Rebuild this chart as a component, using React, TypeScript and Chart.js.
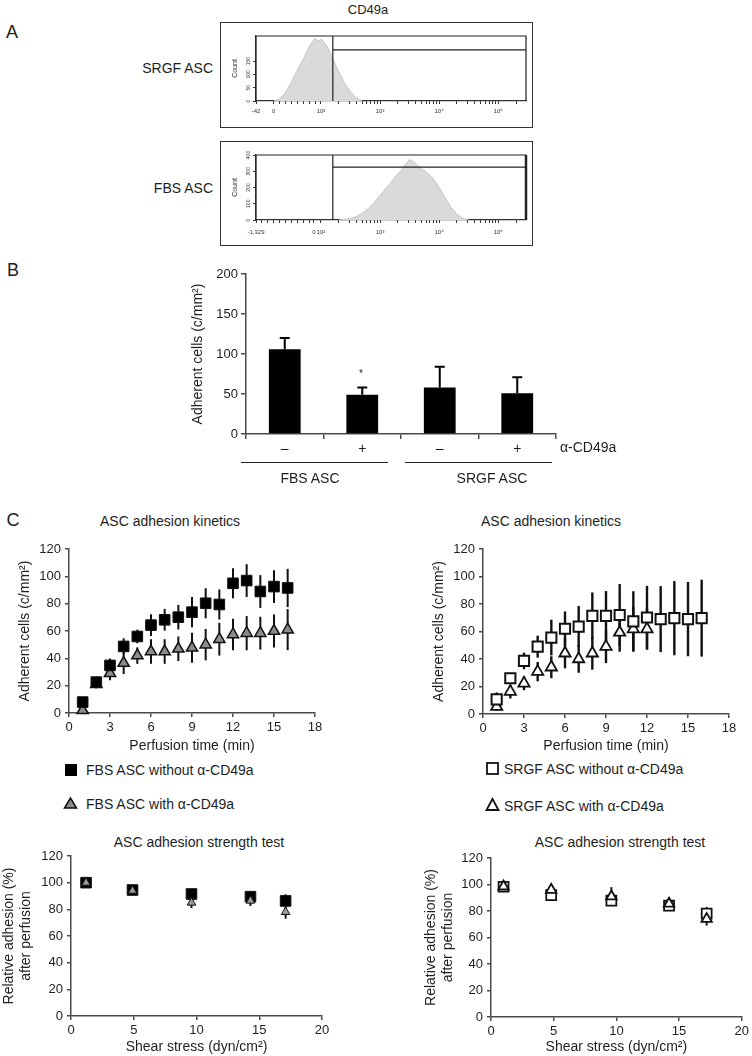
import React, { useEffect, useRef } from 'react';
import { Chart, registerables } from 'chart.js';

Chart.register(...registerables);

const FONT = '"Liberation Sans", Arial, Helvetica, sans-serif';
const INK = '#1e1e1e';
const AXIS = '#4a4a4a';
Chart.defaults.font.family = FONT;
Chart.defaults.color = INK;

// ---------------- Panel A : flow cytometry histograms ----------------
const srgfHistX = [1.2, 1.25, 1.3, 1.35, 1.4, 1.45, 1.5, 1.55, 1.6, 1.65, 1.7, 1.75, 1.8, 1.85, 1.9, 1.95, 2.0, 2.05, 2.1, 2.15, 2.2, 2.25, 2.3, 2.35, 2.4, 2.45, 2.5, 2.55, 2.6, 2.65, 2.7];
const srgfHistY = [0, 3, 9, 18, 34, 52, 70, 96, 115, 138, 158, 180, 204, 220, 236, 224, 232, 222, 206, 184, 158, 134, 108, 90, 66, 50, 34, 22, 12, 5, 0];
const fbsHistX = [2.3, 2.4, 2.5, 2.6, 2.7, 2.8, 2.9, 3.0, 3.1, 3.2, 3.3, 3.35, 3.4, 3.45, 3.5, 3.55, 3.6, 3.65, 3.7, 3.8, 3.9, 4.0, 4.1, 4.2, 4.3, 4.4, 4.5];
const fbsHistY = [0, 4, 10, 22, 42, 70, 108, 150, 196, 238, 285, 300, 330, 352, 372, 362, 348, 330, 316, 290, 255, 200, 138, 78, 36, 10, 0];
const histMajorValues = [2, 3, 4, 5];
const histMajorLabels = ['10²', '10³', '10⁴', '10⁵'];
const srgfLowTickValues = [0.9, 1.2];
const srgfLowTickLabels = ['-42', '0'];
const fbsLowTickValues = [0.9, 1.88];
const fbsLowTickLabels = ['-1,329', '0'];
const srgfLinearMinors = [1.3, 1.4, 1.5, 1.6, 1.7, 1.8, 1.9];
const fbsLinearMinors = [1.0, 1.1, 1.2, 1.3, 1.4, 1.5, 1.6, 1.7, 1.8];
const srgfCountTicks = 50;
const fbsCountTicks = 100;
const srgfCountMax = 244;
const fbsCountMax = 400;
const gateStart = 2.2;
const srgfGateCount = 192;
const fbsGateCount = 325;

// ---------------- Panel B : bar chart ----------------
const barCategories = ['–', '+', '–', '+'];
const barValues = [106, 49, 58, 51];
const barErrors = [14, 9, 26, 20];

// ---------------- Panel C : adhesion kinetics ----------------
const kinTime = [1, 2, 3, 4, 5, 6, 7, 8, 9, 10, 11, 12, 13, 14, 15, 16];
const fbsWithout = [8, 22.6, 34.8, 48.7, 56, 64.3, 68.2, 70.1, 73.8, 80.3, 79.4, 94.9, 96.9, 88.9, 92.5, 91.5];
const fbsWithoutErr = [3, 3, 5, 6, 5, 8, 8, 9, 11, 11, 11, 11, 12, 12, 12, 14];
const fbsWith = [2, 21, 29, 36.5, 42, 45, 45, 47, 47.7, 50, 54, 57.5, 58.4, 58.4, 60, 61];
const fbsWithErr = [2, 3, 5, 8, 6, 9, 9, 9, 11, 11.5, 12, 11.5, 12.5, 12, 12, 15];
const srgfWithout = [10.7, 26, 38.6, 49, 55.6, 62, 63.6, 71.4, 71.4, 72, 67.3, 70.2, 69, 69.7, 69, 69.7];
const srgfWithoutErr = [5, 4, 6, 8, 13, 12.6, 15, 17, 18, 22.5, 22, 23, 24, 27, 27, 28];
const srgfWithTime = [1, 2, 3, 4, 5, 6, 7, 8, 9, 10, 11, 12];
const srgfWith = [5.3, 16.3, 22.3, 30.8, 34, 44.2, 40, 44.2, 49, 59.3, 61.7, 61.7];
const srgfWithErr = [3, 5, 5, 7, 8, 11, 10, 12, 12, 14, 16, 15];

// ---------------- Panel C : adhesion strength ----------------
const shearFbs = [1.2, 4.9, 9.6, 14.3, 17.1];
const fbsStrWithout = [100, 94.5, 91.5, 89.5, 86.3];
const fbsStrWithoutErr = [2, 2, 3, 3, 5];
const fbsStrWith = [100, 94, 85, 86.5, 78];
const fbsStrWithErr = [1, 2, 4, 4, 5];
const shearSrgf = [1.0, 4.8, 9.6, 14.2, 17.2];
const srgfStrWithout = [98.3, 92, 87.8, 84, 78];
const srgfStrWithoutErr = [2, 3, 3, 4, 5];
const srgfStrWith = [98.5, 96, 91, 85.5, 74];
const srgfStrWithErr = [2, 3, 7, 5, 5];

// ---------------- plugins ----------------
const errorBars = {
  id: 'errorBars',
  beforeDatasetsDraw(chart: any) {
    const { ctx } = chart;
    chart.data.datasets.forEach((ds: any, i: number) => {
      if (!ds.errors) return;
      const meta = chart.getDatasetMeta(i);
      const ys = chart.scales[meta.yAxisID];
      ctx.save();
      ctx.strokeStyle = ds.errorColor ?? '#000';
      ctx.lineWidth = ds.errorWidth ?? 2;
      meta.data.forEach((el: any, j: number) => {
        const raw = ds.data[j];
        const v = typeof raw === 'number' ? raw : raw.y;
        const e = ds.errors[j];
        const yTop = ys.getPixelForValue(v + e);
        const yBot = ys.getPixelForValue(ds.errorUpOnly ? v : v - e);
        ctx.beginPath();
        ctx.moveTo(el.x, yBot);
        ctx.lineTo(el.x, yTop);
        if (ds.errorCap) {
          ctx.moveTo(el.x - ds.errorCap, yTop);
          ctx.lineTo(el.x + ds.errorCap, yTop);
        }
        ctx.stroke();
      });
      ctx.restore();
    });
  },
};

const histDecor = {
  id: 'histDecor',
  afterDatasetsDraw(chart: any, _args: any, opts: any) {
    const { ctx, chartArea: a, scales } = chart;
    const gx = scales.x.getPixelForValue(opts.gateX);
    const gy = scales.y.getPixelForValue(opts.gateY);
    ctx.save();
    ctx.strokeStyle = '#222';
    ctx.lineWidth = 1.2;
    ctx.beginPath();
    ctx.moveTo(a.left, a.bottom);
    ctx.lineTo(a.left, a.top);
    ctx.lineTo(a.right, a.top);
    ctx.lineTo(a.right, a.bottom);
    ctx.moveTo(gx, a.top);
    ctx.lineTo(gx, a.bottom);
    ctx.moveTo(gx, gy);
    ctx.lineTo(a.right, gy);
    ctx.stroke();
    if (opts.thickRight) {
      ctx.lineWidth = 2.5;
      ctx.beginPath();
      ctx.moveTo(a.right, a.top);
      ctx.lineTo(a.right, a.bottom);
      ctx.stroke();
    }
    ctx.fillStyle = '#333';
    ctx.font = `5px ${FONT}`;
    ctx.textAlign = 'center';
    ctx.textBaseline = 'middle';
    scales.y.ticks.forEach((t: any) => {
      const y = scales.y.getPixelForValue(t.value);
      ctx.save();
      ctx.translate(a.left - 7, y);
      ctx.rotate(-Math.PI / 2);
      ctx.fillText(String(t.value), 0, 0);
      ctx.restore();
    });
    ctx.restore();
  },
};

// ---------------- config builders ----------------
function histTicks(lowValues: number[], lowLabels: string[], linearMinors: number[]) {
  const list: { value: number; label: string }[] = [];
  lowValues.forEach((v, i) => list.push({ value: v, label: lowLabels[i] }));
  linearMinors.forEach((v) => list.push({ value: v, label: '' }));
  histMajorValues.forEach((d, i) => {
    list.push({ value: d, label: histMajorLabels[i] });
    for (let k = 2; k <= 9; k++) {
      const v = d + Math.log10(k);
      if (v < 5.45) list.push({ value: v, label: '' });
    }
  });
  list.sort((p, q) => p.value - q.value);
  return list;
}

function histogramConfig(p: any) {
  const ticks = histTicks(p.lowValues, p.lowLabels, p.minors);
  return {
    type: 'line',
    data: {
      datasets: [
        {
          data: p.xs.map((x: number, i: number) => ({ x, y: p.ys[i] })),
          fill: 'origin',
          backgroundColor: '#dadada',
          borderColor: '#c4c4c4',
          borderWidth: 1,
          pointRadius: 0,
          tension: 0,
        },
      ],
    },
    plugins: [histDecor],
    options: {
      responsive: false,
      animation: false,
      events: [],
      layout: { padding: { top: p.padTop, right: p.padRight, left: 0, bottom: 0 } },
      plugins: {
        legend: { display: false },
        tooltip: { enabled: false },
        histDecor: { gateX: p.gateX, gateY: p.gateY, thickRight: p.thickRight },
      },
      scales: {
        x: {
          type: 'linear',
          min: 0.9,
          max: 5.47,
          afterBuildTicks: (s: any) => {
            s.ticks = ticks.map((t) => ({ value: t.value }));
          },
          ticks: {
            autoSkip: false,
            maxRotation: 0,
            minRotation: 0,
            font: { size: 6 },
            padding: p.tickPad,
            color: '#333',
            callback: (_v: any, i: number) => ticks[i].label,
          },
          grid: { drawOnChartArea: false, drawTicks: true, tickLength: 3, color: '#333', lineWidth: 1 },
          border: { display: true, color: '#333', width: 1.2 },
          afterFit: (s: any) => {
            s.height = p.xHeight;
          },
        },
        y: {
          min: 0,
          max: p.yMax,
          afterBuildTicks: (s: any) => {
            s.ticks = s.ticks.filter((t: any) => t.value % p.yStep === 0);
          },
          ticks: { stepSize: p.yStep, display: false },
          grid: { drawOnChartArea: false, drawTicks: true, tickLength: 3, color: '#333', lineWidth: 1 },
          border: { display: true, color: '#333', width: 1.2 },
          title: { display: true, text: 'Count', font: { size: 7 }, color: '#333', padding: { top: 9, bottom: 0 } },
          afterFit: (s: any) => {
            s.width = p.yWidth;
          },
        },
      },
    },
  };
}

function axisCommon(fontSize: number) {
  return {
    grid: { drawOnChartArea: false, drawTicks: true, tickLength: 4, color: AXIS, lineWidth: 1.5 },
    border: { display: true, color: AXIS, width: 1.5 },
    ticks: { font: { size: fontSize }, color: INK, padding: 3 },
  };
}

function barConfig() {
  const c = axisCommon(13);
  return {
    type: 'bar',
    data: {
      labels: barCategories,
      datasets: [
        {
          data: barValues,
          errors: barErrors,
          errorUpOnly: true,
          errorCap: 5,
          errorWidth: 2,
          backgroundColor: '#000',
          borderWidth: 0,
          barPercentage: 0.41,
          categoryPercentage: 1,
        },
      ],
    },
    plugins: [errorBars],
    options: {
      responsive: false,
      animation: false,
      events: [],
      layout: { padding: { top: 12, right: 24, left: 0, bottom: 0 } },
      plugins: { legend: { display: false }, tooltip: { enabled: false } },
      scales: {
        x: {
          ...c,
          grid: { ...c.grid, offset: true, tickLength: 5 },
          ticks: { font: { size: 14 }, color: INK, padding: 2 },
          afterFit: (s: any) => {
            s.height = 28;
          },
        },
        y: {
          ...c,
          min: 0,
          max: 200,
          grid: { ...c.grid, tickLength: 5 },
          ticks: { ...c.ticks, stepSize: 50 },
          title: { display: true, text: 'Adherent cells (c/mm²)', font: { size: 14 }, color: INK, padding: { top: 9.6, bottom: 0 } },
          afterFit: (s: any) => {
            s.width = 66;
          },
        },
      },
    },
  };
}

function xyConfig(p: any) {
  const c = axisCommon(13);
  return {
    type: 'scatter',
    data: { datasets: p.datasets },
    plugins: [errorBars],
    options: {
      responsive: false,
      animation: false,
      events: [],
      layout: { padding: { top: p.padTop, right: p.padRight, left: 0, bottom: 0 } },
      plugins: { legend: { display: false }, tooltip: { enabled: false } },
      scales: {
        x: {
          ...c,
          type: 'linear',
          min: p.xMin,
          max: p.xMax,
          ticks: { ...c.ticks, stepSize: p.xStep },
          title: { display: true, text: p.xTitle, font: { size: 14 }, color: INK, padding: { top: 0, bottom: p.xTitlePad } },
          afterFit: (s: any) => {
            s.height = p.xHeight;
          },
        },
        y: {
          ...c,
          type: 'linear',
          min: 0,
          max: 120,
          ticks: { ...c.ticks, stepSize: 20, padding: 4 },
          title: { display: true, text: p.yTitle, font: { size: 14, lineHeight: 1.2 }, color: INK, padding: { top: p.yTitlePad, bottom: 0 } },
          afterFit: (s: any) => {
            s.width = p.yWidth;
          },
        },
      },
    },
  };
}

function pts(xs: number[], ys: number[]) {
  return ys.map((y, i) => ({ x: xs[i], y }));
}

function markerSet(p: any) {
  return {
    data: pts(p.xs, p.ys),
    errors: p.errs,
    errorWidth: p.errorWidth ?? 2,
    errorColor: '#111',
    pointStyle: p.style,
    pointRadius: p.r,
    backgroundColor: p.fill,
    borderColor: '#111',
    borderWidth: p.bw,
    showLine: false,
    clip: false,
    order: p.order,
  };
}

// ---------------- components ----------------
function ChartCanvas({ left, top, width, height, make }: any) {
  const ref = useRef<HTMLCanvasElement>(null);
  useEffect(() => {
    const chart = new Chart(ref.current as HTMLCanvasElement, make());
    return () => chart.destroy();
  }, []);
  return (
    <div style={{ position: 'absolute', left, top, width, height }}>
      <canvas ref={ref} width={width} height={height} style={{ width, height, display: 'block' }} />
    </div>
  );
}

function Label({ x, y, size = 14, align = 'center', children }: any) {
  const tx = align === 'center' ? '-50%' : align === 'right' ? '-100%' : '0';
  return (
    <div
      style={{
        position: 'absolute',
        left: x,
        top: y,
        transform: `translate(${tx}, -50%)`,
        fontSize: size,
        fontFamily: FONT,
        color: INK,
        whiteSpace: 'nowrap',
        lineHeight: 1,
      }}
    >
      {children}
    </div>
  );
}

function Marker({ x, y, kind }: any) {
  return (
    <svg style={{ position: 'absolute', left: x, top: y, overflow: 'visible' }} width={14} height={14}>
      {kind === 'sqFilled' && <rect x={0} y={0} width={12} height={12} fill="#000" />}
      {kind === 'sqOpen' && <rect x={1} y={1} width={11} height={11} fill="#fff" stroke="#111" strokeWidth={1.8} />}
      {kind === 'triGray' && <polygon points="6.5,1 0.5,11 12.5,11" fill="#8c8c8c" stroke="#111" strokeWidth={1.5} />}
      {kind === 'triOpen' && <polygon points="6.5,1 0.5,12 12.5,12" fill="#fff" stroke="#111" strokeWidth={1.8} />}
    </svg>
  );
}

function HLine({ x1, x2, y }: any) {
  return <div style={{ position: 'absolute', left: x1, top: y, width: x2 - x1, height: 0, borderTop: '1.5px solid #222' }} />;
}

export default function App() {
  return (
    <div style={{ position: 'absolute', left: 0, top: 0, width: 752, height: 1056, background: '#fff', overflow: 'hidden', fontFamily: FONT }}>
      {/* Panel A */}
      <Label x={368} y={9} size={13}>CD49a</Label>
      <Label x={12} y={32} size={18}>A</Label>
      <Label x={213} y={68} align="right">SRGF ASC</Label>
      <Label x={213} y={188} align="right">FBS ASC</Label>
      <div style={{ position: 'absolute', left: 220, top: 22, width: 313, height: 106, border: '1.5px solid #333', boxSizing: 'border-box' }} />
      <div style={{ position: 'absolute', left: 220, top: 141, width: 313, height: 105, border: '1.5px solid #333', boxSizing: 'border-box' }} />
      <ChartCanvas
        left={222}
        top={24}
        width={309}
        height={102}
        make={() =>
          histogramConfig({
            xs: srgfHistX,
            ys: srgfHistY,
            yMax: srgfCountMax,
            yStep: srgfCountTicks,
            gateX: gateStart,
            gateY: srgfGateCount,
            lowValues: srgfLowTickValues,
            lowLabels: srgfLowTickLabels,
            minors: srgfLinearMinors,
            padTop: 12,
            padRight: 5,
            xHeight: 25,
            yWidth: 34,
            tickPad: 4,
            thickRight: false,
          })
        }
      />
      <ChartCanvas
        left={222}
        top={143}
        width={309}
        height={101}
        make={() =>
          histogramConfig({
            xs: fbsHistX,
            ys: fbsHistY,
            yMax: fbsCountMax,
            yStep: fbsCountTicks,
            gateX: gateStart,
            gateY: fbsGateCount,
            lowValues: fbsLowTickValues,
            lowLabels: fbsLowTickLabels,
            minors: fbsLinearMinors,
            padTop: 12,
            padRight: 5,
            xHeight: 24,
            yWidth: 34,
            tickPad: 6,
            thickRight: true,
          })
        }
      />

      {/* Panel B */}
      <Label x={13} y={270} size={18}>B</Label>
      <ChartCanvas left={180} top={262} width={400} height={200} make={barConfig} />
      <Label x={361} y={374} size={10}>*</Label>
      <Label x={560} y={447} align="left">α-CD49a</Label>
      <HLine x1={241} x2={388} y={462} />
      <HLine x1={405} x2={552} y={462} />
      <Label x={310} y={478}>FBS ASC</Label>
      <Label x={492} y={478}>SRGF ASC</Label>

      {/* Panel C */}
      <Label x={13} y={520} size={18}>C</Label>
      <Label x={170} y={521}>ASC adhesion kinetics</Label>
      <Label x={551} y={521}>ASC adhesion kinetics</Label>
      <ChartCanvas
        left={0}
        top={530}
        width={376}
        height={230}
        make={() =>
          xyConfig({
            datasets: [
              markerSet({ xs: kinTime, ys: fbsWithout, errs: fbsWithoutErr, style: 'rect', r: 7.5, fill: '#000', bw: 1, order: 0 }),
              markerSet({ xs: kinTime, ys: fbsWith, errs: fbsWithErr, style: 'triangle', r: 6.5, fill: '#8c8c8c', bw: 1.5, order: 1 }),
            ],
            xMin: 0,
            xMax: 18,
            xStep: 3,
            xTitle: 'Perfusion time (min)',
            yTitle: 'Adherent cells (c/mm²)',
            padTop: 19,
            padRight: 61,
            yWidth: 69,
            xHeight: 47,
            yTitlePad: 16.6,
            xTitlePad: 5.6,
          })
        }
      />
      <ChartCanvas
        left={376}
        top={530}
        width={376}
        height={230}
        make={() =>
          xyConfig({
            datasets: [
              markerSet({ xs: kinTime, ys: srgfWithout, errs: srgfWithoutErr, style: 'rect', r: 7.2, fill: '#fff', bw: 2, order: 0, errorWidth: 2.4 }),
              markerSet({ xs: srgfWithTime, ys: srgfWith, errs: srgfWithErr, style: 'triangle', r: 6.5, fill: '#fff', bw: 1.8, order: 1, errorWidth: 2.4 }),
            ],
            xMin: 0,
            xMax: 18,
            xStep: 3,
            xTitle: 'Perfusion time (min)',
            yTitle: 'Adherent cells (c/mm²)',
            padTop: 19,
            padRight: 23,
            yWidth: 107,
            xHeight: 46,
            yTitlePad: 54.6,
            xTitlePad: 5.6,
          })
        }
      />

      {/* Legends */}
      <Marker x={65} y={764} kind="sqFilled" />
      <Label x={86} y={770} align="left">FBS ASC without α-CD49a</Label>
      <Marker x={64} y={797} kind="triGray" />
      <Label x={86} y={804} align="left">FBS ASC with α-CD49a</Label>
      <Marker x={486} y={762} kind="sqOpen" />
      <Label x={504} y={769} align="left">SRGF ASC without α-CD49a</Label>
      <Marker x={486} y={798} kind="triOpen" />
      <Label x={504} y={806} align="left">SRGF ASC with α-CD49a</Label>

      {/* Adhesion strength */}
      <Label x={199} y={842}>ASC adhesion strength test</Label>
      <Label x={620} y={842}>ASC adhesion strength test</Label>
      <ChartCanvas
        left={0}
        top={830}
        width={376}
        height={226}
        make={() =>
          xyConfig({
            datasets: [
              markerSet({ xs: shearFbs, ys: fbsStrWithout, errs: fbsStrWithoutErr, style: 'rect', r: 7.5, fill: '#000', bw: 1, order: 1 }),
              markerSet({ xs: shearFbs, ys: fbsStrWith, errs: fbsStrWithErr, style: 'triangle', r: 5, fill: '#9a9a9a', bw: 1, order: 0 }),
            ],
            xMin: 0,
            xMax: 20,
            xStep: 5,
            xTitle: 'Shear stress (dyn/cm²)',
            yTitle: ['Relative adhesion (%)', 'after perfusion'],
            padTop: 26,
            padRight: 54,
            yWidth: 71,
            xHeight: 40,
            yTitlePad: 0.6,
            xTitlePad: 0.5,
          })
        }
      />
      <ChartCanvas
        left={376}
        top={830}
        width={376}
        height={226}
        make={() =>
          xyConfig({
            datasets: [
              markerSet({ xs: shearSrgf, ys: srgfStrWithout, errs: srgfStrWithoutErr, style: 'rect', r: 7, fill: '#fff', bw: 1.8, order: 1 }),
              markerSet({ xs: shearSrgf, ys: srgfStrWith, errs: srgfStrWithErr, style: 'triangle', r: 6, fill: '#fff', bw: 1.8, order: 0 }),
            ],
            xMin: 0,
            xMax: 20,
            xStep: 5,
            xTitle: 'Shear stress (dyn/cm²)',
            yTitle: ['Relative adhesion (%)', 'after perfusion'],
            padTop: 28,
            padRight: 8,
            yWidth: 115,
            xHeight: 39,
            yTitlePad: 46.6,
            xTitlePad: 0.5,
          })
        }
      />
    </div>
  );
}
